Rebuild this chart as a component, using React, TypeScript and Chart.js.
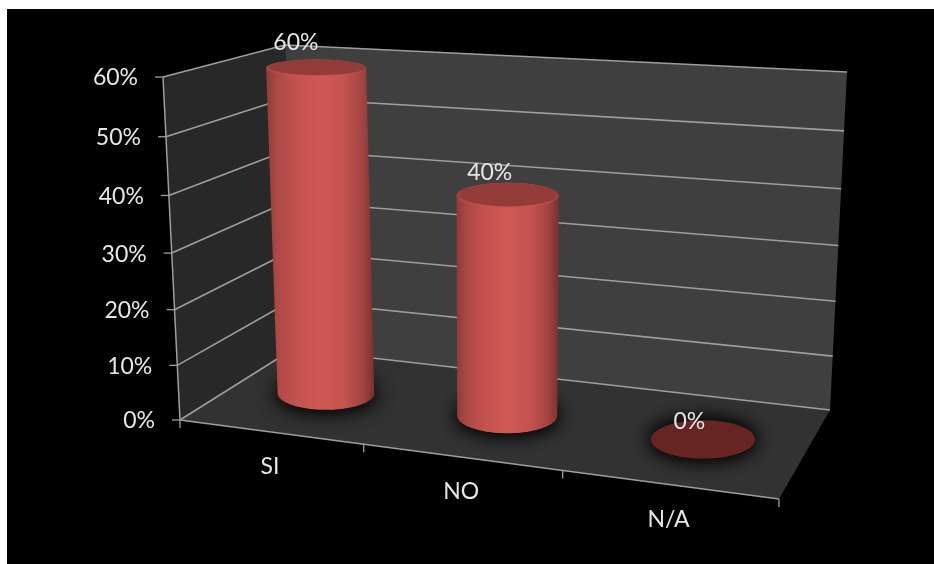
import React, { useEffect, useRef } from "react";
import { Chart, registerables } from "chart.js";

Chart.register(...registerables);

const categories = ["SI", "NO", "N/A"];
const percentages = [60, 40, 0];
const axisMax = 60;
const axisStep = 10;

type Pt = [number, number];

// Screen corners of the box the plot is projected onto.
const FLOOR: Pt[] = [[180, 420], [779, 499], [830, 410], [293, 349]];
const CEILING: Pt[] = [[163, 77], [796, 111], [847, 72], [285, 45]];
const HEIGHT_BIAS = 1.055;
const BASE_DEPTH = 0.5;
const DEPTH_RADIUS = 0.225;
const CAP_DEPTH_SHIFT = 0.04;
const CAP_DEPTH_SCALE = 1.12;
const CAP_INSET = 0.995;
// Eases the width change of the discs across the box.
const NOMINAL_SPAN = 609;

// Maps the unit square onto a quad (corners run counter-clockwise from u=0, d=0).
function squareToQuad(q: Pt[]) {
  const [[x0, y0], [x1, y1], [x2, y2], [x3, y3]] = q;
  const sx = x0 - x1 + x2 - x3;
  const sy = y0 - y1 + y2 - y3;
  const dx1 = x1 - x2, dx2 = x3 - x2, dy1 = y1 - y2, dy2 = y3 - y2;
  const den = dx1 * dy2 - dx2 * dy1;
  const g = (sx * dy2 - dx2 * sy) / den;
  const h = (dx1 * sy - sx * dy1) / den;
  const a = x1 - x0 + g * x1, b = x3 - x0 + h * x3;
  const d = y1 - y0 + g * y1, e = y3 - y0 + h * y3;
  return (u: number, v: number): Pt => {
    const w = g * u + h * v + 1;
    return [(a * u + b * v + x0) / w, (d * u + e * v + y0) / w];
  };
}

const floorMap = squareToQuad(FLOOR);
const ceilingMap = squareToQuad(CEILING);

function project(u: number, d: number, h: number): Pt {
  const s = h / (h + HEIGHT_BIAS * (1 - h));
  const f = floorMap(u, d);
  const t = ceilingMap(u, d);
  return [f[0] + s * (t[0] - f[0]), f[1] + s * (t[1] - f[1])];
}

function poly(ctx: CanvasRenderingContext2D, pts: Pt[]) {
  ctx.beginPath();
  pts.forEach((p, i) => (i ? ctx.lineTo(p[0], p[1]) : ctx.moveTo(p[0], p[1])));
  ctx.closePath();
}

function segment(ctx: CanvasRenderingContext2D, a: Pt, b: Pt) {
  ctx.beginPath();
  ctx.moveTo(a[0], a[1]);
  ctx.lineTo(b[0], b[1]);
  ctx.stroke();
}

// A disc of the box seen on screen: level ellipse sized from its projected axes.
function ring(u: number, d: number, h: number, ru: number, rd: number): Pt[] {
  const l = project(u - ru, d, h);
  const r = project(u + ru, d, h);
  const back = project(u, d + rd, h);
  const fore = project(u, d - rd, h);
  const cx = (l[0] + r[0]) / 2;
  const cy = (back[1] + fore[1]) / 2;
  const a = (Math.abs(r[0] - l[0]) / 2 + ru * NOMINAL_SPAN) / 2;
  const b = Math.abs(fore[1] - back[1]) / 2;
  const out: Pt[] = [];
  for (let i = 0; i < 96; i++) {
    const t = (i / 96) * Math.PI * 2;
    out.push([cx + a * Math.cos(t), cy + b * Math.sin(t)]);
  }
  return out;
}

function hull(points: Pt[]): Pt[] {
  const p = [...points].sort((a, b) => a[0] - b[0] || a[1] - b[1]);
  const cross = (o: Pt, a: Pt, b: Pt) => (a[0] - o[0]) * (b[1] - o[1]) - (a[1] - o[1]) * (b[0] - o[0]);
  const lower: Pt[] = [];
  for (const q of p) {
    while (lower.length > 1 && cross(lower[lower.length - 2], lower[lower.length - 1], q) <= 0) lower.pop();
    lower.push(q);
  }
  const upper: Pt[] = [];
  for (const q of [...p].reverse()) {
    while (upper.length > 1 && cross(upper[upper.length - 2], upper[upper.length - 1], q) <= 0) upper.pop();
    upper.push(q);
  }
  return lower.slice(0, -1).concat(upper.slice(0, -1));
}

const LABEL_FONT = '23px Lato, "Open Sans", sans-serif';
const TEXT_COLOR = "#e6e6e6";
const LINE_COLOR = "#9e9e9e";

// Paints the perspective box behind the (transparent) bars.
const boxPlugin = {
  id: "box",
  beforeDatasetsDraw(chart: any) {
    const { ctx, scales } = chart;
    const y = scales.y;
    const area = chart.chartArea;
    ctx.save();
    ctx.fillStyle = "#000000";
    ctx.fillRect(7, 9, chart.width - 7, chart.height - 9);

    poly(ctx, [project(0, 1, 0), project(1, 1, 0), project(1, 1, 1), project(0, 1, 1)]);
    ctx.fillStyle = "#3f3f3f";
    ctx.fill();
    poly(ctx, [project(0, 0, 0), project(0, 1, 0), project(0, 1, 1), project(0, 0, 1)]);
    ctx.fillStyle = "#282828";
    ctx.fill();
    poly(ctx, [project(0, 0, 0), project(1, 0, 0), project(1, 1, 0), project(0, 1, 0)]);
    ctx.fillStyle = "#323232";
    ctx.fill();

    ctx.font = LABEL_FONT;
    ctx.textBaseline = "middle";
    ctx.textAlign = "right";
    y.ticks.forEach((tick: any) => {
      const h = (area.bottom - y.getPixelForValue(tick.value)) / area.height;
      const front = project(0, 0, h);
      ctx.strokeStyle = LINE_COLOR;
      ctx.lineWidth = 1.6;
      segment(ctx, front, project(0, 1, h));
      segment(ctx, project(0, 1, h), project(1, 1, h));
      ctx.lineWidth = 1.3;
      segment(ctx, [front[0] - 8, front[1]], front);
      ctx.fillStyle = TEXT_COLOR;
      ctx.fillText(tick.label, front[0] - 25, front[1] + 1);
    });

    ctx.strokeStyle = LINE_COLOR;
    ctx.lineWidth = 1.5;
    segment(ctx, project(0, 0, 1), project(0, 0, 0));
    segment(ctx, project(0, 0, 0), project(1, 0, 0));

    ctx.textAlign = "center";
    const band = area.width / categories.length;
    categories.forEach((name, i) => {
      const cx = chart.scales.x.getPixelForValue(i);
      const u = (cx - area.left) / area.width;
      const edge = project((cx + band / 2 - area.left) / area.width, 0, 0);
      const p = project(u, 0, 0);
      ctx.fillStyle = TEXT_COLOR;
      ctx.fillText(name, p[0], p[1] + 35);
      ctx.lineWidth = 1.3;
      segment(ctx, edge, [edge[0], edge[1] + 8]);
    });
    const origin = project(0, 0, 0);
    segment(ctx, origin, [origin[0], origin[1] + 8]);
    ctx.restore();
  },
};

// Turns each bar element into a cylinder standing on the floor of the box.
const cylinderPlugin = {
  id: "cylinder",
  afterDatasetsDraw(chart: any) {
    const { ctx } = chart;
    const area = chart.chartArea;
    const bars = chart.getDatasetMeta(0).data;
    ctx.save();
    bars.forEach((bar: any, i: number) => {
      const u = (bar.x - area.left) / area.width;
      const h = ((area.bottom - bar.y) / area.height) * CAP_INSET;
      const ru = bar.width / area.width / 2;
      const base = ring(u, BASE_DEPTH, 0, ru, DEPTH_RADIUS);

      // soft contact shadow on the floor
      ctx.save();
      ctx.shadowColor = "rgba(0,0,0,0.9)";
      ctx.shadowBlur = 20;
      for (let pass = 0; pass < 2; pass++) {
        poly(ctx, base);
        ctx.fillStyle = "#1c1c1c";
        ctx.fill();
      }
      ctx.restore();

      const capDepth = BASE_DEPTH - CAP_DEPTH_SHIFT;
      const capRadius = DEPTH_RADIUS * CAP_DEPTH_SCALE;
      let labelAt: Pt;
      if (h <= 0) {
        poly(ctx, base);
        ctx.fillStyle = "#672522";
        ctx.fill();
        labelAt = project(u, BASE_DEPTH, 0);
      } else {
        const top = ring(u, capDepth, h, ru, capRadius);
        const xs = top.concat(base).map((p) => p[0]);
        const x0 = Math.min(...xs);
        const x1 = Math.max(...xs);
        const shade = ctx.createLinearGradient(x0, 0, x1, 0);
        shade.addColorStop(0, "#8f3b39");
        shade.addColorStop(0.1, "#ad4845");
        shade.addColorStop(0.3, "#c65350");
        shade.addColorStop(0.5, "#cf5854");
        shade.addColorStop(0.72, "#c55350");
        shade.addColorStop(0.9, "#a04340");
        shade.addColorStop(1, "#7a302e");
        poly(ctx, hull(top.concat(base)));
        ctx.fillStyle = shade;
        ctx.fill();

        const ys = top.map((p) => p[1]);
        const rim = ctx.createLinearGradient(0, Math.min(...ys), 0, Math.max(...ys));
        rim.addColorStop(0, "#953c3a");
        rim.addColorStop(0.6, "#a84441");
        rim.addColorStop(1, "#cc5551");
        poly(ctx, top);
        ctx.fillStyle = rim;
        ctx.fill();
        poly(ctx, ring(u, capDepth + 0.012, h, ru * 0.96, capRadius * 0.88));
        ctx.fillStyle = "#933b39";
        ctx.fill();
        labelAt = project(u, capDepth, h);
      }

      const s = h / (h + HEIGHT_BIAS * (1 - h));
      ctx.font = LABEL_FONT;
      ctx.fillStyle = TEXT_COLOR;
      ctx.textAlign = "center";
      ctx.textBaseline = "middle";
      ctx.fillText(`${percentages[i]}%`, labelAt[0] - 13 - 7 * s, labelAt[1] - 17 - 8 * s);
    });
    ctx.restore();
  },
};

export default function App() {
  const ref = useRef<HTMLCanvasElement>(null);
  useEffect(() => {
    const chart = new Chart(ref.current!, {
      type: "bar",
      data: {
        labels: categories,
        datasets: [
          {
            data: percentages,
            backgroundColor: "rgba(0,0,0,0)",
            borderWidth: 0,
            barPercentage: 0.512,
            categoryPercentage: 1,
          },
        ],
      },
      options: {
        responsive: false,
        animation: false,
        events: [],
        plugins: { legend: { display: false }, tooltip: { enabled: false } },
        layout: { padding: 0 },
        scales: {
          x: { display: false },
          y: {
            display: false,
            min: 0,
            max: axisMax,
            ticks: { stepSize: axisStep, callback: (v: any) => `${v}%` },
          },
        },
      },
      plugins: [boxPlugin, cylinderPlugin],
    } as any);
    return () => chart.destroy();
  }, []);
  return (
    <canvas
      ref={ref}
      width={934}
      height={564}
      style={{ position: "fixed", left: 0, top: 0, display: "block" }}
    />
  );
}
